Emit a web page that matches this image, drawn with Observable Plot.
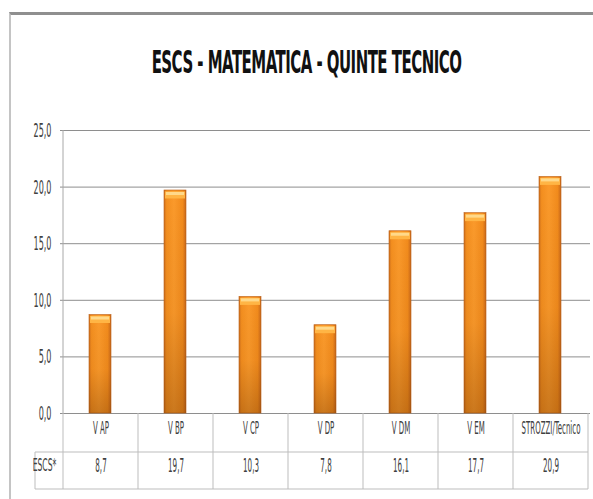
<!DOCTYPE html>
<html>
<head>
<meta charset="utf-8">
<script src="https://cdn.jsdelivr.net/npm/d3@7"></script>
<script src="https://cdn.jsdelivr.net/npm/@observablehq/plot@0.6"></script>
<style>
  html, body { margin: 0; padding: 0; background: #fff; }
  #wrap { position: relative; width: 593px; height: 499px; overflow: hidden; }
  #frame { position: absolute; left: 9px; top: 12px; width: 600px; height: 500px;
           border-top: 3px solid #8f8f8f; border-left: 2px solid #c4c4c4; box-sizing: border-box; }
  #title { position: absolute; left: 0; top: 46px; width: 613px; text-align: center; line-height: 32px;
           font-family: "Liberation Sans Narrow", "DejaVu Sans Condensed", sans-serif;
           font-weight: bold; font-size: 32px; color: #111; letter-spacing: -1px; white-space: nowrap;
           transform: scaleX(0.52); transform-origin: 306.5px 0; }
  #chart { position: absolute; left: 0; top: 0; }
</style>
</head>
<body>
<div id="wrap">
  <div id="frame"></div>
  <div id="chart"></div>
  <div id="title">ESCS - MATEMATICA - QUINTE TECNICO</div>
</div>
<script>
const categories = ["V AP", "V BP", "V CP", "V DP", "V DM", "V EM", "STROZZI/Tecnico"];
const escs = [8.7, 19.7, 10.3, 7.8, 16.1, 17.7, 20.9];
const yTicks = [0, 5, 10, 15, 20, 25];
const rowLabel = ["ESCS*"];

const data = categories.map((c, i) => ({cat: c, value: escs[i]}));
const fmt = d => d.toFixed(1).replace(".", ",");
const FONT = '"Liberation Sans Narrow", "DejaVu Sans Condensed", sans-serif';

const tableLines = (index, scales, values, dim) => {
  const x = scales.x, y = scales.y;
  const bw = x.bandwidth();
  const y0 = y(0);
  const r1 = y0 + 39, r2 = y0 + 76;
  const left = x(categories[0]);
  const right = x(categories[categories.length - 1]) + bw;
  const g = d3.create("svg:g").attr("stroke", "#bdbdbd").attr("stroke-width", 1).attr("fill", "none");
  g.append("line").attr("x1", left).attr("x2", left).attr("y1", y(25)).attr("y2", y0).attr("stroke", "#a8a8a8");
  const edges = categories.map(c => x(c)).concat([right]);
  for (const e of edges) {
    g.append("line").attr("x1", e).attr("x2", e).attr("y1", y0).attr("y2", r2);
  }
  g.append("line").attr("x1", left - 28).attr("x2", left - 28).attr("y1", r1).attr("y2", r2);
  g.append("line").attr("x1", left - 28).attr("x2", right).attr("y1", r1).attr("y2", r1);
  g.append("line").attr("x1", left - 28).attr("x2", right).attr("y1", r2).attr("y2", r2);
  return g.node();
};

const defs = () => {
  const s = d3.create("svg:defs");
  const h = s.append("linearGradient").attr("id", "barH").attr("x1", 0).attr("x2", 1).attr("y1", 0).attr("y2", 0);
  [["0%", "#d2711c"], ["12%", "#f48f1f"], ["45%", "#fb9a2b"], ["85%", "#f28b1c"], ["100%", "#c9681a"]]
    .forEach(([o, c]) => h.append("stop").attr("offset", o).attr("stop-color", c));
  const v = s.append("linearGradient").attr("id", "barV").attr("x1", 0).attr("x2", 0).attr("y1", 0).attr("y2", 1);
  [["0%", "#000", 0], ["55%", "#5a2a00", 0.05], ["100%", "#5a2a00", 0.3]]
    .forEach(([o, c, a]) => v.append("stop").attr("offset", o).attr("stop-color", c).attr("stop-opacity", a));
  return s.node();
};

const chart = Plot.plot({
  width: 593,
  height: 499,
  marginTop: 130,
  marginLeft: 60,
  marginRight: 3,
  marginBottom: 86,
  style: {fontFamily: FONT, fontSize: "13px", color: "#404040", background: "transparent"},
  x: {domain: categories, padding: 0, axis: null},
  y: {domain: [0, 25], axis: null},
  marks: [
    defs,
    Plot.ruleY(yTicks, {stroke: "#8e8e8e", strokeWidth: 1}),
    tableLines,
    Plot.barY(data, {x: "cat", y: "value", fill: "url(#barH)", stroke: "#b9601a", strokeWidth: 0.6, insetLeft: 26, insetRight: 27}),
    Plot.barY(data, {x: "cat", y: "value", fill: "url(#barV)", insetLeft: 26, insetRight: 27}),
    Plot.tickY(data, {x: "cat", y: "value", stroke: "#ffb545", strokeWidth: 7, dy: 4.5, insetLeft: 27, insetRight: 28}),
    Plot.tickY(data, {x: "cat", y: "value", stroke: "#ffd98a", strokeWidth: 3, dy: 3, insetLeft: 28, insetRight: 29}),
    Plot.text(yTicks, {y: d => d, text: fmt, frameAnchor: "left", dx: -9, textAnchor: "end", fill: "#404040", fontSize: 20, className: "sq-tick"}),
    Plot.text(data, {x: "cat", text: "cat", frameAnchor: "bottom", dy: 20, fill: "#404040", fontSize: 17, className: "sq-cat"}),
    Plot.text(data, {x: "cat", text: d => fmt(d.value), frameAnchor: "bottom", dy: 58, fill: "#404040", fontSize: 19, className: "sq-val"}),
    Plot.text(rowLabel, {text: d => d, frameAnchor: "bottom-left", dx: -16, dy: 57, textAnchor: "middle", fill: "#404040", fontSize: 17, className: "sq-row"})
  ]
});

// horizontally condense text (the reference uses a very narrow font)
const squeeze = {"sq-tick": 0.45, "sq-cat": 0.46, "sq-val": 0.42, "sq-row": 0.5};
for (const [cls, s] of Object.entries(squeeze)) {
  chart.querySelectorAll(`g.${cls} text`).forEach(el => {
    const t = el.getAttribute("transform") || "";
    const x = +(el.getAttribute("x") || 0);
    el.setAttribute("transform", `${t} translate(${x},0) scale(${s},1) translate(${-x},0)`);
  });
}
document.getElementById("chart").appendChild(chart);
</script>
</body>
</html>
